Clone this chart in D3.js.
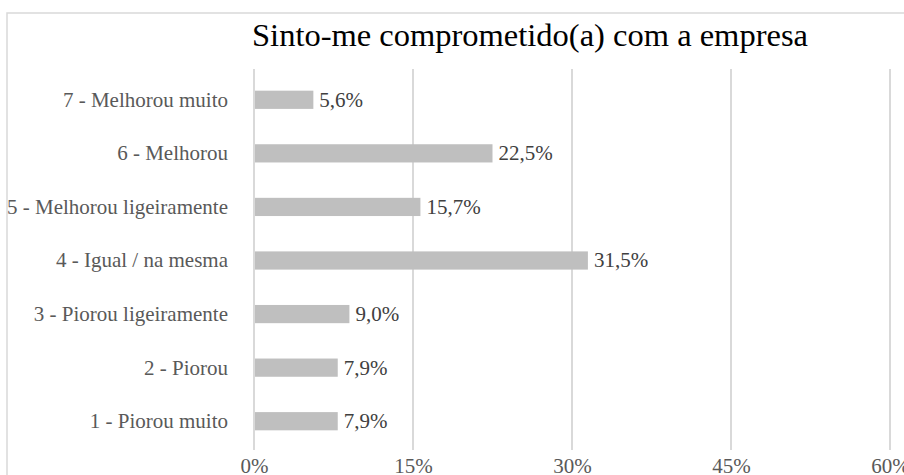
<!DOCTYPE html>
<html>
<head>
<meta charset="utf-8">
<script src="https://cdn.jsdelivr.net/npm/d3@7"></script>
<style>
  html, body { margin: 0; padding: 0; background: #fff; }
  svg { display: block; }
</style>
</head>
<body>
<svg id="chart" width="904" height="475"></svg>
<script>
// Response categories (top to bottom) and their shares in percent
const categories = [
  "7 - Melhorou muito",
  "6 - Melhorou",
  "5 - Melhorou ligeiramente",
  "4 - Igual / na mesma",
  "3 - Piorou ligeiramente",
  "2 - Piorou",
  "1 - Piorou muito"
];
const values = [5.6, 22.5, 15.7, 31.5, 9.0, 7.9, 7.9];
const tickValues = [0, 15, 30, 45, 60];
const title = "Sinto-me comprometido(a) com a empresa";

const SERIF = "'Liberation Serif'";
const svg = d3.select("#chart");

// Outer chart frame
svg.append("rect")
  .attr("x", 7).attr("y", 13)
  .attr("width", 920).attr("height", 500)
  .attr("fill", "#fff")
  .attr("stroke", "#d9d9d9").attr("stroke-width", 1.5);

const plot = { left: 254, right: 890, top: 69, bottom: 450 };

const x = d3.scaleLinear().domain([0, 60]).range([plot.left, plot.right]);
const y = d3.scaleBand()
  .domain(categories)
  .range([plot.top + 4, plot.bottom - 2])
  .paddingInner(0.66)
  .paddingOuter(0.33);

// Vertical gridlines
svg.append("g").selectAll("line")
  .data(tickValues)
  .join("line")
  .attr("x1", d => x(d)).attr("x2", d => x(d))
  .attr("y1", plot.top).attr("y2", plot.bottom)
  .attr("stroke", "#d9d9d9").attr("stroke-width", 2);

// Bars
svg.append("g").selectAll("rect")
  .data(values)
  .join("rect")
  .attr("x", x(0) + 1)
  .attr("y", (d, i) => y(categories[i]))
  .attr("width", d => x(d) - x(0) - 1)
  .attr("height", y.bandwidth())
  .attr("fill", "#bfbfbf");

// Value labels
const fmt = v => v.toFixed(1).replace(".", ",") + "%";
svg.append("g").selectAll("text")
  .data(values)
  .join("text")
  .attr("x", d => x(d) + 6)
  .attr("y", (d, i) => y(categories[i]) + y.bandwidth() / 2)
  .attr("dy", "0.33em")
  .style("font-family", SERIF)
  .style("font-size", "21px")
  .attr("fill", "#404040")
  .text(fmt);

// Category axis (labels only)
const yAxis = svg.append("g")
  .attr("transform", `translate(${plot.left - 26},0)`)
  .call(d3.axisLeft(y).tickSize(0).tickPadding(0));
yAxis.select(".domain").remove();
yAxis.attr("font-family", null);
yAxis.selectAll("text")
  .attr("dy", "0.33em")
  .style("font-family", SERIF)
  .style("font-size", "21px")
  .attr("fill", "#595959");

// Value axis (labels only)
const xAxis = svg.append("g")
  .attr("transform", `translate(0,${plot.bottom + 2})`)
  .call(d3.axisBottom(x).tickValues(tickValues).tickFormat(d => d + "%").tickSize(0).tickPadding(6));
xAxis.select(".domain").remove();
xAxis.attr("font-family", null);
xAxis.selectAll("text")
  .style("font-family", SERIF)
  .style("font-size", "21px")
  .attr("fill", "#595959");

// Title
svg.append("text")
  .attr("x", 530).attr("y", 46)
  .attr("text-anchor", "middle")
  .style("font-family", SERIF)
  .style("font-size", "32.5px")
  .attr("fill", "#000")
  .text(title);
</script>
</body>
</html>
